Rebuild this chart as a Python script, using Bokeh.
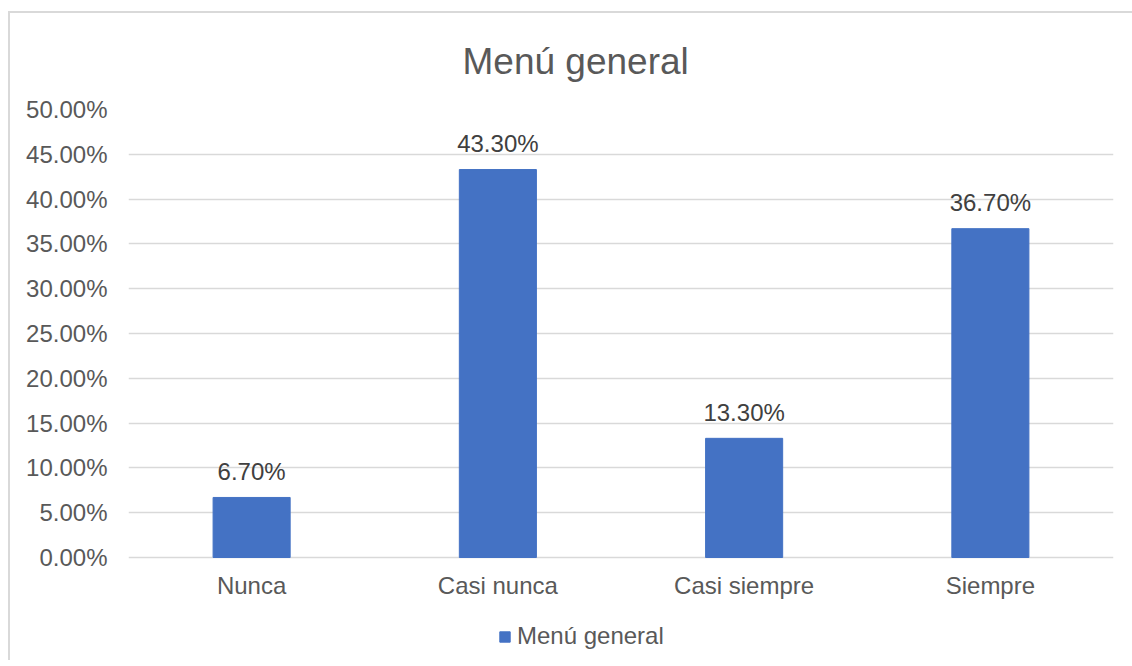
from bokeh.plotting import figure
from bokeh.models import (Range1d, FixedTicker, NumeralTickFormatter, Legend, LegendItem,
                          ColumnDataSource, Title)
from bokeh.core.properties import value
from bokeh.embed import file_html
from bokeh.resources import INLINE

categories = ["Nunca", "Casi nunca", "Casi siempre", "Siempre"]
values = [0.067, 0.433, 0.133, 0.367]
labels = [f"{v * 100:.2f}%" for v in values]
y_ticks = [0.0, 0.05, 0.10, 0.15, 0.20, 0.25, 0.30, 0.35, 0.40, 0.45, 0.50]
series_name = "Menú general"
title_text = "Menú general"

FONT = "Liberation Sans"
BAR = "#4472C4"
GRID = "#D9D9D9"
TXT = "#595959"

# layout: 0..0.5 spans 448 px; frame extends below zero to hold the legend
PX_PER_UNIT = 448 / 0.5
FRAME_H = 551
Y_TOP = 0.5
Y_BOTTOM = Y_TOP - FRAME_H / PX_PER_UNIT

src = ColumnDataSource(dict(cat=categories, val=values, lab=labels))

p = figure(x_range=categories, y_range=Range1d(Y_BOTTOM, Y_TOP), frame_width=985, frame_height=FRAME_H,
           output_backend="svg", toolbar_location=None,
           min_border_left=118, min_border_right=19, min_border_top=96, min_border_bottom=0)
p.x_range.range_padding = 0
p.styles = {"border-left": f"2px solid {GRID}", "border-top": f"2px solid {GRID}",
            "margin-top": "11px", "margin-left": "8px", "margin-bottom": "-36px"}
p.outline_line_color = None
p.background_fill_color = "white"
p.border_fill_color = "white"

r = p.vbar(x="cat", top="val", bottom=0, width=0.313, source=src, color=BAR)

p.text(x="cat", y="val", text="lab", source=src, text_align="center", text_baseline="alphabetic",
       y_offset=-26, text_font=value(FONT), text_font_size="24px", text_color="#404040")

p.title = Title(text=title_text, align="left", vertical_align="top", text_baseline="alphabetic",
                text_font=FONT, text_font_size="37px",
                text_font_style="normal", text_color=TXT, offset=334, standoff=52)

p.yaxis.ticker = FixedTicker(ticks=y_ticks)
p.yaxis.formatter = NumeralTickFormatter(format="0.00%")
p.xaxis.fixed_location = 0
for ax in (p.xaxis[0], p.yaxis[0]):
    ax.axis_line_color = None
    ax.major_tick_line_color = None
    ax.minor_tick_line_color = None
    ax.major_tick_out = 0
    ax.major_tick_in = 0
    ax.minor_tick_out = 0
    ax.major_label_text_font = FONT
    ax.major_label_text_font_size = "24px"
    ax.major_label_text_color = TXT
p.yaxis.major_label_standoff = 21
p.xaxis.major_label_standoff = 14
p.xgrid.grid_line_color = None
p.ygrid.grid_line_color = GRID
p.ygrid.grid_line_width = 1.5

legend = Legend(items=[LegendItem(label=series_name, renderers=[r])], location=(370, 10),
                glyph_width=13, glyph_height=13, label_standoff=6,
                padding=0, margin=0,
                border_line_color=None, background_fill_alpha=0,
                label_text_font=FONT, label_text_font_size="24px", label_text_color=TXT)
p.add_layout(legend, "center")

open("out.html", "w").write(file_html(p, INLINE))
